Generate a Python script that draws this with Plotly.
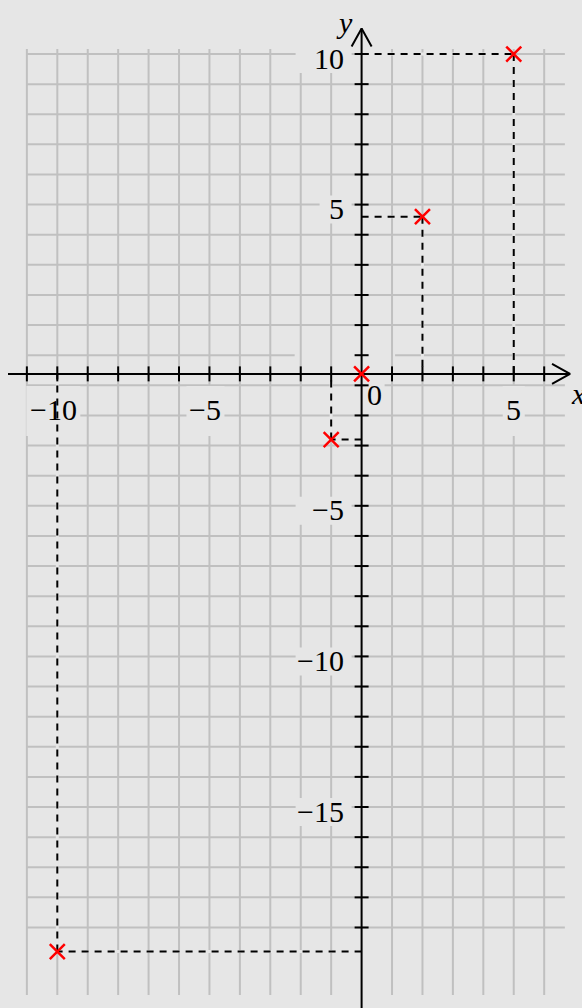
import plotly.graph_objects as go

# Plotted points (x, y) and the level at which the horizontal axis is drawn
POINT_X = [5, 2, 0, -1, -10]
POINT_Y = [10, 4.6, -0.62, -2.8, -19.8]
AXIS_Y = -0.62

# Tick positions and labelled ticks
X_TICKS = [v for v in range(-11, 7) if v != 0]
Y_TICKS = list(range(-19, 11))
X_LABELS = [-10, -5, 5]
Y_LABELS = [10, 5, -5, -10, -15]

# Grid lines
GRID_X = list(range(-11, 7))
GRID_Y = list(range(-19, 11))

# ---- layout constants ----
W, H = 582, 1008
XR = [-11.883, 7.243]
YR = [-21.673, 11.793]
SX = W / (XR[1] - XR[0])   # pixels per unit
SY = H / (YR[1] - YR[0])
BG = "#e6e6e6"
GRID_C = "#c0c0c0"
FONT = "Liberation Serif"
FS = 30

GRID_TOP, GRID_BOTTOM = 10.17, -21.24
GRID_LEFT, GRID_RIGHT = -11, 6.68
ROW_GAPS = {0: (-2.2, 1.1)}
X_AXIS_LEFT, X_AXIS_TIP = -11.62, 6.85
Y_AXIS_TIP = 10.85


def px_x(p):
    return p / SX


def px_y(p):
    return p / SY


def minus(v):
    return str(v).replace("-", "\u2212")


traces = []

# grid
gx, gy = [], []
for x in GRID_X:
    if x == 0:
        continue
    gx += [x, x, None]
    gy += [GRID_TOP, GRID_BOTTOM, None]
for y in GRID_Y:
    if y in ROW_GAPS:
        a, b = ROW_GAPS[y]
        gx += [GRID_LEFT, a, None, b, GRID_RIGHT, None]
        gy += [y, y, None, y, y, None]
    else:
        gx += [GRID_LEFT, GRID_RIGHT, None]
        gy += [y, y, None]
traces.append(go.Scatter(x=gx, y=gy, mode="lines",
                         line=dict(color=GRID_C, width=2)))

# background patches behind the tick labels
mx, my = [], []


def rect(x0, x1, y0, y1):
    mx.extend([x0, x1, x1, x0, x0, None])
    my.extend([y0, y0, y1, y1, y0, None])


for v in Y_LABELS:
    t = minus(v)
    left = -66 if len(t) > 1 else -42
    cy = v - px_y(5)
    rect(px_x(left), px_x(-10), cy - px_y(14), cy + px_y(14))
for v in X_LABELS:
    t = minus(v)
    cx = v + px_x(-4 if v < 0 else 0)
    hw = 8 * len(t) + 3
    rect(cx - px_x(hw), cx + px_x(hw), AXIS_Y - px_y(62), AXIS_Y - px_y(12))
rect(px_x(4), px_x(23), AXIS_Y - px_y(32), AXIS_Y - px_y(6))
traces.append(go.Scatter(x=mx, y=my, mode="lines", fill="toself",
                         fillcolor=BG, line=dict(width=0, color=BG)))

# dashed guides from each point to the axes
dx_, dy_ = [], []
for x, y in zip(POINT_X, POINT_Y):
    if x == 0:
        continue
    dx_ += [0, x, None, x, x, None]
    dy_ += [y, y, None, y, AXIS_Y, None]
traces.append(go.Scatter(x=dx_, y=dy_, mode="lines",
                         line=dict(color=BG, width=3)))
traces.append(go.Scatter(x=dx_, y=dy_, mode="lines",
                         line=dict(color="black", width=2, dash="7px,6px")))

# axes with open arrow heads
ax, ay = [], []
ax += [X_AXIS_LEFT, X_AXIS_TIP, None]
ay += [AXIS_Y, AXIS_Y, None]
ax += [0, 0, None]
ay += [YR[0], Y_AXIS_TIP, None]
ax += [X_AXIS_TIP - px_x(18), X_AXIS_TIP, X_AXIS_TIP - px_x(18), None]
ay += [AXIS_Y + px_y(10), AXIS_Y, AXIS_Y - px_y(10), None]
ax += [-px_x(10), 0, px_x(10), None]
ay += [Y_AXIS_TIP - px_y(18), Y_AXIS_TIP, Y_AXIS_TIP - px_y(18), None]
traces.append(go.Scatter(x=ax, y=ay, mode="lines",
                         line=dict(color="black", width=2)))

# tick marks
tx, ty = [], []
for x in X_TICKS:
    tx += [x, x, None]
    ty += [AXIS_Y + px_y(7.5), AXIS_Y - px_y(7.5), None]
for y in Y_TICKS:
    tx += [-px_x(7), px_x(7), None]
    ty += [y, y, None]
traces.append(go.Scatter(x=tx, y=ty, mode="lines",
                         line=dict(color="black", width=2)))

# points
traces.append(go.Scatter(x=POINT_X, y=POINT_Y, mode="markers",
                         marker=dict(symbol="x-thin", size=15,
                                     line=dict(color="#ff0000", width=2.5))))

fig = go.Figure(traces)

ann = []
font = dict(family=FONT, size=FS, color="black")
for v in X_LABELS:
    ann.append(dict(x=v, y=AXIS_Y, text=minus(v), showarrow=False, font=font,
                    xanchor="center", yanchor="middle",
                    xshift=-4 if v < 0 else 0, yshift=-36))
for v in Y_LABELS:
    ann.append(dict(x=0, y=v, text=minus(v), showarrow=False, font=font,
                    xanchor="right", yanchor="middle", xshift=-16, yshift=-4))
ann.append(dict(x=0, y=AXIS_Y, text="0", showarrow=False, font=font,
                xanchor="center", yanchor="middle", xshift=13, yshift=-21))
ann.append(dict(x=X_AXIS_TIP, y=AXIS_Y, text="<i>x</i>", showarrow=False,
                font=font, xanchor="center", yanchor="middle",
                xshift=8, yshift=-20))
ann.append(dict(x=0, y=Y_AXIS_TIP, text="<i>y</i>", showarrow=False,
                font=font, xanchor="center", yanchor="middle",
                xshift=-17, yshift=6))

fig.update_layout(
    width=W, height=H,
    margin=dict(l=0, r=0, t=0, b=0),
    paper_bgcolor=BG, plot_bgcolor=BG,
    showlegend=False, hovermode=False,
    annotations=ann,
    xaxis=dict(range=XR, visible=False, fixedrange=True),
    yaxis=dict(range=YR, visible=False, fixedrange=True),
)

fig.write_html("out.html")
